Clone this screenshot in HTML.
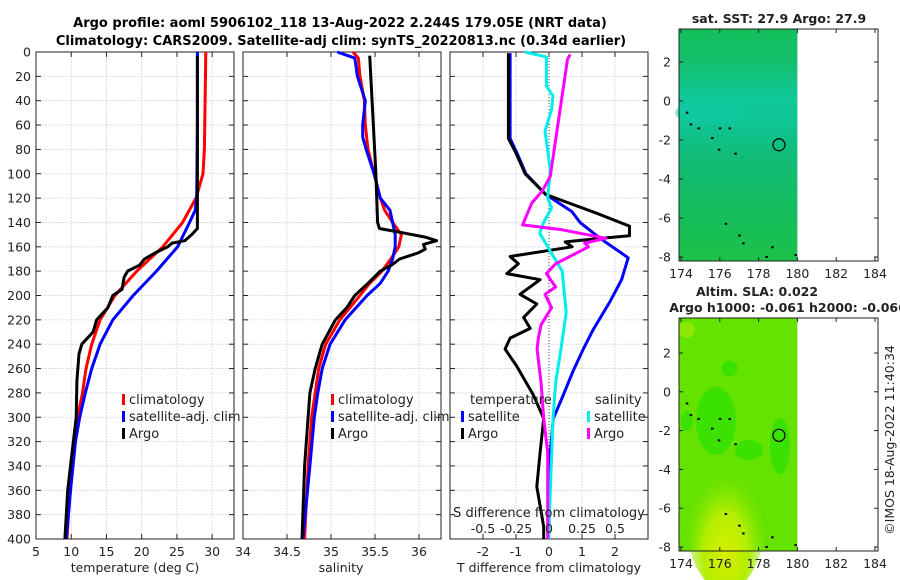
<!DOCTYPE html>
<html><head><meta charset="utf-8"><style>
html,body{margin:0;padding:0;background:#fff;}
svg{display:block;font-family:"DejaVu Sans","Liberation Sans",sans-serif;}
</style></head><body>
<svg id="fig" width="900" height="580" viewBox="0 0 900 580">
<defs>
<linearGradient id="sstGrad" x1="0" y1="0" x2="0" y2="1">
<stop offset="0" stop-color="#14bf5a"/><stop offset="0.15" stop-color="#14c070"/>
<stop offset="0.3" stop-color="#10c89a"/><stop offset="0.4" stop-color="#10c496"/>
<stop offset="0.55" stop-color="#12bc78"/><stop offset="0.8" stop-color="#16bd5c"/>
<stop offset="1" stop-color="#1cc248"/></linearGradient>
<radialGradient id="yel" cx="0.5" cy="0.75" r="0.55"><stop offset="0" stop-color="#d8ee00"/><stop offset="0.5" stop-color="#b4ee00"/><stop offset="1" stop-color="#7ae600" stop-opacity="0"/></radialGradient>
</defs>
<g id="root"></g>
<text x="340" y="27" text-anchor="middle" font-size="13" font-weight="bold">Argo profile: aoml 5906102_118 13-Aug-2022 2.244S 179.05E (NRT data)</text>
<text x="341" y="45" text-anchor="middle" font-size="13" font-weight="bold">Climatology: CARS2009. Satellite-adj clim: synTS_20220813.nc (0.34d earlier)</text>
<text x="0" y="0" transform="translate(894,440) rotate(-90)" text-anchor="middle" font-size="12.5" fill="#222">©IMOS 18-Aug-2022 11:40:34</text>
</svg>
<script>
// ---- data (depth in m) ----
const tClimDepth=[0,80,100,120,140,160,180,200,220,240,260,280,300,340,380,400];
const tClimVal=[29.1,28.9,28.7,27.7,25.8,23.0,19.3,16.2,14.1,12.9,12.1,11.6,10.9,10.2,9.6,9.4];
const tSatDepth=[0,60,120,130,140,160,180,200,220,240,260,280,300,320,360,400];
const tSatVal=[27.9,27.9,27.8,27.6,26.8,25.1,22.1,18.8,15.9,14.1,12.9,12.0,11.2,10.6,9.9,9.3];
const tArgoDepth=[3,140,145,150,155,157,160,165,170,175,180,185,195,200,210,220,230,240,248,270,300,340,360,400];
const tArgoVal=[27.9,27.9,27.9,27.1,26.1,24.3,23.7,21.9,20.4,19.7,18.0,17.5,17.2,15.9,15.2,13.6,13.1,11.5,11.1,10.8,10.7,9.9,9.5,9.1];
const sClimDepth=[0,5,20,40,60,80,100,120,130,140,150,160,170,180,190,200,220,240,260,280,300,340,400];
const sClimVal=[35.25,35.31,35.33,35.38,35.39,35.42,35.49,35.56,35.61,35.70,35.80,35.77,35.68,35.58,35.44,35.33,35.10,34.94,34.86,34.82,34.78,34.74,34.70];
const sSatDepth=[0,5,20,40,60,70,80,100,120,130,140,150,160,170,180,190,200,220,240,260,280,300,340,400];
const sSatVal=[35.07,35.27,35.30,35.39,35.36,35.36,35.40,35.49,35.56,35.67,35.70,35.73,35.73,35.70,35.65,35.56,35.41,35.16,34.99,34.90,34.85,34.81,34.76,34.68];
const sArgoDepth=[3,100,140,145,148,152,155,158,162,165,170,175,180,190,200,210,220,240,260,280,300,340,400];
const sArgoVal=[35.44,35.51,35.53,35.55,35.78,36.07,36.20,36.05,36.07,35.99,35.78,35.69,35.56,35.42,35.27,35.18,35.05,34.90,34.82,34.76,34.74,34.70,34.67];
const dTSatDepth=[1,71,83,100,117,131,140,153,169,187,205,228,244,262,282,301,329,390,400];
const dTSatVal=[-1.18,-1.18,-0.97,-0.7,-0.1,0.69,0.94,1.55,2.4,2.2,1.85,1.34,1.04,0.73,0.43,0.13,0.04,0.0,0.0];
const dTArgoDepth=[1,71,83,100,117,124,132,143,151,153,156,160,168,174,182,187,199,207,218,227,235,244,258,282,301,329,357,390,400];
const dTArgoVal=[-1.23,-1.23,-1.0,-0.72,-0.1,0.6,1.4,2.44,2.44,1.6,0.49,0.7,-1.18,-0.93,-1.28,-0.27,-0.88,-0.37,-0.77,-0.57,-1.18,-1.33,-0.98,-0.47,-0.16,-0.27,-0.37,-0.16,-0.16];
const dSSatDepth=[0,4,28,36,47,65,97,120,128,140,149,160,169,180,214,244,272,301,390,400];
const dSSatVal=[-0.18,-0.02,-0.02,0.03,0.02,-0.03,0.01,-0.01,0.02,-0.04,-0.07,-0.01,0.04,0.1,0.13,0.09,0.05,0.03,0.0,0.0];
const dSArgoDepth=[2,6,102,114,124,142,146,153,157,160,174,182,193,199,210,224,235,244,272,301,329,390,400];
const dSArgoVal=[0.16,0.14,0.01,-0.05,-0.13,-0.2,0.1,0.43,0.27,0.3,0.05,-0.02,0.05,-0.03,0.02,-0.06,-0.08,-0.09,-0.06,-0.04,-0.01,-0.01,-0.01];
const depthTicks=[0,20,40,60,80,100,120,140,160,180,200,220,240,260,280,300,320,340,360,380,400];
const tTicks=[5,10,15,20,25,30];
const sTicks=[34,34.5,35,35.5,36];
const dTTicks=[-2,-1,0,1,2];
const dSTicks=[-0.5,-0.25,0,0.25,0.5];
const dSTickLabels=['-0.5','-0.25','0','0.25','0.5'];
const lonTicks=[174,176,178,180,182,184];
const latTicks=[2,0,-2,-4,-6,-8];
const islandLon=[174.3,174.5,174.9,175.6,176.0,176.5,175.95,176.8,176.3,177.2,178.4,178.7,177.0,179.9];
const islandLat=[-0.6,-1.2,-1.4,-1.9,-1.4,-1.4,-2.5,-2.7,-6.3,-7.3,-8.0,-7.5,-6.9,-7.9];
const argoLon=179.05, argoLat=-2.244;

const NS='http://www.w3.org/2000/svg';
const root=document.getElementById('root');
function el(tag,attrs,parent){const e=document.createElementNS(NS,tag);for(const k in attrs)e.setAttribute(k,attrs[k]);(parent||root).appendChild(e);return e;}
function txt(x,y,s,size,anchor,parent){const t=el('text',{x:x,y:y,'font-size':size||12,'text-anchor':anchor||'middle',fill:'#222'},parent);t.textContent=s;return t;}

const Y0=52,Y1=539;
function yD(d){return Y0+(d/400)*(Y1-Y0);}
function linScale(d0,d1,r0,r1){return v=>r0+(v-d0)/(d1-d0)*(r1-r0);}

function panel(name,x0,x1,xs,xticks,showY){
  const g=el('g',{});
  
  
  depthTicks.forEach(d=>{el('line',{x1:x0,x2:x1,y1:yD(d),y2:yD(d),stroke:'#c4c8e8','stroke-width':0.8,'stroke-dasharray':'1.5,1.5'},g);
    el('line',{x1:x0,x2:x0+5,y1:yD(d),y2:yD(d),stroke:'#222'},g);el('line',{x1:x1-5,x2:x1,y1:yD(d),y2:yD(d),stroke:'#222'},g);
    if(showY){const t=txt(x0-5,yD(d)+4.5,String(d),12.5,'end',g);}});
  xticks.forEach(v=>{const x=xs(v);el('line',{x1:x,x2:x,y1:Y0,y2:Y1,stroke:'#c4c8e8','stroke-width':0.8,'stroke-dasharray':'1.5,1.5'},g);
    el('line',{x1:x,x2:x,y1:Y1,y2:Y1-5,stroke:'#222'},g);el('line',{x1:x,x2:x,y1:Y0,y2:Y0+5,stroke:'#222'},g);});
  el('rect',{x:x0,y:Y0,width:x1-x0,height:Y1-Y0,fill:'none',stroke:'#222','stroke-width':1},g);
  return g;
}
function series(g,name,depths,vals,xs,color,w){
  const pts=depths.map((d,i)=>xs(vals[i]).toFixed(1)+','+yD(d).toFixed(1)).join(' ');
  const p=el('polyline',{points:pts,fill:'none',stroke:color,'stroke-width':w||3,'stroke-linejoin':'round'},g);
  
  
}
function legend(g,x,y,items){
  items.forEach((it,i)=>{el('rect',{x:x,y:y+i*17-6,width:3,height:11,fill:it[1]},g);
    const t=txt(x+7,y+i*17+4,it[0],13,'start',g);});
}

// Panel 1 temperature
const tx=linScale(5,33.1,36,234);
const g1=panel('temperature-panel',36,234,tx,tTicks,true);
[5,10,15,20,25,30].forEach(v=>txt(tx(v),556,String(v),12.5,'middle',g1));
txt(135,572,'temperature (deg C)',12.5,'middle',g1);
series(g1,'temp-climatology-line',tClimDepth,tClimVal,tx,'#f00');
series(g1,'temp-satellite-line',tSatDepth,tSatVal,tx,'#00f');
series(g1,'temp-argo-line',tArgoDepth,tArgoVal,tx,'#000');
legend(g1,122,400,[['climatology','#f00'],['satellite-adj. clim','#00f'],['Argo','#000']]);

// Panel 2 salinity
const sx=linScale(34,36.25,243,441);
const g2=panel('salinity-panel',243,441,sx,sTicks,false);
[['34',34],['34.5',34.5],['35',35],['35.5',35.5],['36',36]].forEach(a=>txt(sx(a[1]),556,a[0],12.5,'middle',g2));
txt(341,572,'salinity',12.5,'middle',g2);
series(g2,'sal-climatology-line',sClimDepth,sClimVal,sx,'#f00');
series(g2,'sal-satellite-line',sSatDepth,sSatVal,sx,'#00f');
series(g2,'sal-argo-line',sArgoDepth,sArgoVal,sx,'#000');
legend(g2,331,400,[['climatology','#f00'],['satellite-adj. clim','#00f'],['Argo','#000']]);

// Panel 3 differences
const dtx=linScale(-3,3,450,648);
const dsx=linScale(-0.75,0.75,450,648);
const g3=panel('difference-panel',450,648,dtx,dTTicks,false);
el('line',{x1:dtx(0),x2:dtx(0),y1:Y0,y2:Y1,stroke:'#444','stroke-width':1,'stroke-dasharray':'1,2'},g3);
dTTicks.forEach(v=>txt(dtx(v),556,String(v),12.5,'middle',g3));
txt(549,572,'T difference from climatology',12.5,'middle',g3);
series(g3,'dT-satellite-line',dTSatDepth,dTSatVal,dtx,'#00f');
series(g3,'dT-argo-line',dTArgoDepth,dTArgoVal,dtx,'#000');
series(g3,'dS-satellite-line',dSSatDepth,dSSatVal,dsx,'#0ee');
series(g3,'dS-argo-line',dSArgoDepth,dSArgoVal,dsx,'#f0f');
txt(549,517,'S difference from climatology',13,'middle',g3);
dSTicks.forEach((v,i)=>txt(dsx(v),533,dSTickLabels[i],12.5,'middle',g3));
txt(470,404,'temperature',13,'start',g3);
txt(595,404,'salinity',13,'start',g3);
legend(g3,461,417,[['satellite','#00f'],['Argo','#000']]);
legend(g3,587,417,[['satellite','#0ee'],['Argo','#f0f']]);

// Maps
function mapPanel(name,top,bottom,lat2y,kind){
  const lx=linScale(174,184,681,875);
  const ly=linScale(2,-8,lat2y[0],lat2y[1]);
  const g=el('g',{});
  
  
  const L=679,R=878,DR=lx(180);
  if(kind==='sst'){el('rect',{x:L,y:top,width:DR-L,height:bottom-top,fill:'url(#sstGrad)'},g);
    el('ellipse',{cx:lx(175.5),cy:ly(-0.6),rx:35,ry:12,fill:'#10cca8',opacity:0.5},g);}
  else{el('rect',{x:L,y:top,width:DR-L,height:bottom-top,fill:'#64e200'},g);
    [[175.8,-1.5,20,34],[179.1,-2.8,10,28],[176.5,1.2,8,8],[174.3,-1.5,6,10],[177.5,-3,14,10]].forEach(b=>el('ellipse',{cx:lx(b[0]),cy:ly(b[1]),rx:b[2],ry:b[3],fill:'#34e000',opacity:0.85},g));
    el('ellipse',{cx:lx(176.3),cy:ly(-6.4),rx:40,ry:75,fill:'url(#yel)'},g);
    el('ellipse',{cx:lx(174.3),cy:ly(3.2),rx:8,ry:8,fill:'#a8ec00',opacity:0.6},g);}
  islandLon.forEach((lo,i)=>el('rect',{x:lx(lo)-1,y:ly(islandLat[i])-1,width:2.5,height:2,fill:'#000'},g));
  const c=el('circle',{cx:lx(argoLon),cy:ly(argoLat),r:6,fill:'none',stroke:'#000','stroke-width':1.2},g);
  
  
  el('rect',{x:L,y:top,width:R-L,height:bottom-top,fill:'none',stroke:'#222'},g);
  lonTicks.forEach(v=>{el('line',{x1:lx(v),x2:lx(v),y1:bottom,y2:bottom-4,stroke:'#222'},g);el('line',{x1:lx(v),x2:lx(v),y1:top,y2:top+4,stroke:'#222'},g);
    txt(lx(v),bottom+17,String(v),12.5,'middle',g);});
  latTicks.forEach(v=>{el('line',{x1:L,x2:L+4,y1:ly(v),y2:ly(v),stroke:'#222'},g);el('line',{x1:R-4,x2:R,y1:ly(v),y2:ly(v),stroke:'#222'},g);
    txt(L-8,ly(v)+4.5,String(v),12.5,'end',g);});
  return g;
}
const m1=mapPanel('sst-map',29,261,[62,257],'sst');
txt(779,23,'sat. SST: 27.9 Argo: 27.9',12.5,'middle',m1).setAttribute('font-weight','bold');
const m2=mapPanel('sla-map',318,551,[353,547],'sla');
txt(757,296,'Altim. SLA: 0.022',12.5,'middle',m2).setAttribute('font-weight','bold');
txt(788,312,'Argo h1000: -0.061 h2000: -0.066',12.5,'middle',m2).setAttribute('font-weight','bold');
</script>
</body></html>
